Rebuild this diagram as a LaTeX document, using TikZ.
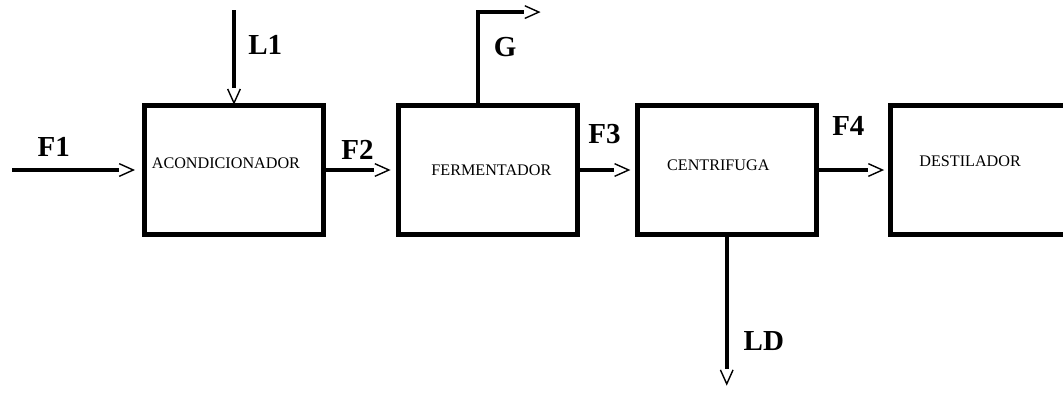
\documentclass[tikz,border=0pt]{standalone}
\usepackage{fontspec}
\setmainfont{Liberation Serif}
\usetikzlibrary{positioning, arrows.meta}
% thin open chevron, shaft stops at its back
\pgfdeclarearrow{
  name = Chevron,
  setup code = {
    \pgfarrowssettipend{0pt}
    \pgfarrowssetlineend{-8.3pt}
    \pgfarrowssetbackend{-8pt}
    \pgfarrowshullpoint{0pt}{0pt}
    \pgfarrowshullpoint{-8pt}{3.6pt}
    \pgfarrowshullpoint{-8pt}{-3.6pt}
  },
  drawing code = {
    \pgfsetlinewidth{0.8pt}
    \pgfsetdash{}{0pt}
    \pgfpathmoveto{\pgfqpoint{-8pt}{3.6pt}}
    \pgfpathlineto{\pgfqpoint{0pt}{0pt}}
    \pgfpathlineto{\pgfqpoint{-8pt}{-3.6pt}}
    \pgfusepathqstroke
  }
}
\begin{document}
\begin{tikzpicture}[x=0.02cm,y=-0.02cm,>=Chevron,
  unit/.style={draw,line width=2.8pt,minimum width=3.58cm,minimum height=2.58cm,inner sep=0pt},
  utxt/.style={font=\fontsize{9.2}{11}\selectfont},
  flow/.style={->,line width=2.3pt},
  tag/.style={font=\fontsize{16.5}{18}\selectfont\bfseries,inner sep=0pt}]
  \useasboundingbox (0,0) rectangle (1063,393);
  \clip (0,0) rectangle (1063,393);
  \node[unit,label={[utxt,xshift=-4.6pt,yshift=4pt]center:ACONDICIONADOR}](acond) at (234,170){};
  \node[unit,right=1.4cm of acond,label={[utxt,xshift=2pt]center:FERMENTADOR}](ferm){};
  \node[unit,right=1.1cm of ferm,label={[utxt,xshift=-4.8pt,yshift=2.6pt]center:CENTRIFUGA}](centr){};
  \node[unit,right=1.38cm of centr,label={[utxt,xshift=-5.4pt,yshift=4.8pt]center:DESTILADOR}](destil){};
  \coordinate[left=2.6cm of acond](f1in);
  \coordinate[above=1.86cm of acond](l1in);
  \coordinate[above=1.82cm of ferm,xshift=1.02cm](gout);
  \coordinate[below=2.94cm of centr](ldout);
  \draw[flow,shorten >=5pt](f1in)--node[tag,pos=.32,above=6.5pt]{F1}(acond);
  \draw[flow](l1in)--node[tag,pos=.37,right=7pt]{L1}(acond);
  \draw[flow,shorten >=4pt](acond)--node[tag,pos=.45,above=5pt]{F2}(ferm);
  \draw[flow]([xshift=-5.7pt]ferm.north)|-node[tag,pos=.31,right=8pt]{G}(gout);
  \draw[flow,shorten >=3.5pt](ferm)--node[tag,pos=.45,above=14pt]{F3}(centr);
  \draw[flow,shorten >=3pt](centr)--node[tag,pos=.43,above=18.5pt]{F4}(destil);
  \draw[flow](centr)--node[tag,pos=.71,right=8.5pt]{LD}(ldout);
\end{tikzpicture}
\end{document}
